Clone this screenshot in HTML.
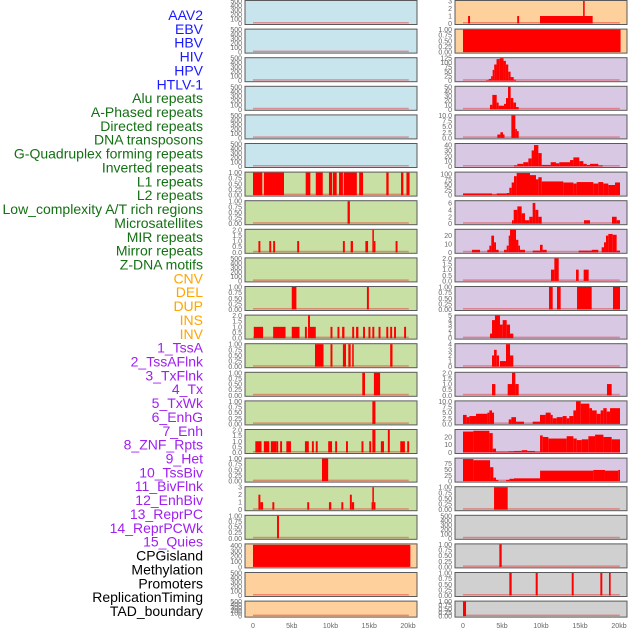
<!DOCTYPE html>
<html><head><meta charset="utf-8">
<style>
body{margin:0;background:#fff;width:630px;height:630px;overflow:hidden}
svg{display:block;font-family:"Liberation Sans",sans-serif}
</style></head>
<body>
<svg id="chart" width="630" height="630" viewBox="0 0 630 630"></svg>
<script>
const labels=["AAV2","EBV","HBV","HIV","HPV","HTLV-1","Alu repeats","A-Phased repeats","Directed repeats","DNA transposons","G-Quadruplex forming repeats","Inverted repeats","L1 repeats","L2 repeats","Low_complexity A/T rich regions","Microsatellites","MIR repeats","Mirror repeats","Z-DNA motifs","CNV","DEL","DUP","INS","INV","1_TssA","2_TssAFlnk","3_TxFlnk","4_Tx","5_TxWk","6_EnhG","7_Enh","8_ZNF_Rpts","9_Het","10_TssBiv","11_BivFlnk","12_EnhBiv","13_ReprPC","14_ReprPCWk","15_Quies","CPGisland","Methylation","Promoters","ReplicationTiming","TAD_boundary"];
const labelColors=[...Array(6).fill("#1a1aff"),...Array(13).fill("#147014"),...Array(5).fill("#ffa500"),...Array(15).fill("#a020f0"),...Array(5).fill("#000")];
const xTicks=[0,5,10,15,20];
const xTickLabels=["0","5kb","10kb","15kb","20kb"];
const T500=[0,100,200,300,400,500],TB=[0,0.25,0.5,0.75,1],T2=[0,0.5,1,1.5,2],T3=[0,1,2,3];
// left column panels: [max, ticks, background, segments [startKb,endKb,value]]
const leftMax=[500,500,500,500,500,500,1,1,2,500,1,2,1,1,1,2,1,3,1,420,500,500];
const leftTicks=[T500,T500,T500,T500,T500,T500,TB,TB,T2,T500,TB,T2,TB,TB,TB,T2,TB,T3,TB,[0,100,200,300,400],T500,T500];
const leftBg=["b","b","b","b","b","b","g","g","g","g","g","g","g","g","g","g","g","g","g","o","o","o"];
const leftSegs=[[],[],[],[],[],[],
[[0,1.2,1],[1.4,4.0,1],[6.8,7.4,1],[8.1,9.0,1],[9.8,10.2,1],[10.3,10.8,1],[11.1,11.6,1],[11.7,13.4,1],[13.7,14.2,1],[17.2,17.5,1],[19.1,19.4,1],[19.8,20.2,1]],
[[12.2,12.5,1]],
[[0.7,0.95,1],[2.1,2.35,1],[2.6,2.85,1],[5.7,5.95,1],[11.6,11.85,1],[12.6,12.9,1],[14.5,14.85,1],[15.4,15.6,2],[15.6,15.8,1],[18.4,18.65,1]],
[],
[[5.0,5.6,1],[14.7,14.95,1]],
[[0.1,1.3,1],[2.6,4.2,1],[5.0,6.0,1],[6.7,6.95,1],[7.1,7.35,2],[7.35,8.1,1],[10.0,10.25,1],[10.9,11.15,1],[11.5,11.8,1],[12.8,13.05,1],[13.3,13.6,1],[14.2,14.45,1],[14.9,15.15,1],[15.4,15.65,1],[16.2,16.45,1],[17.2,17.45,1],[17.7,17.95,1],[18.2,18.45,1],[19.5,19.75,1]],
[[8.0,9.1,1],[10.0,10.25,1],[11.6,12.0,1],[12.3,12.6,1],[12.8,13.0,1],[17.7,18.0,1]],
[[14.1,14.45,1],[15.6,16.4,1]],
[[15.4,15.8,1]],
[[0.3,1.1,1],[1.4,2.1,1],[2.3,3.0,1],[3.0,3.25,1],[3.5,3.75,1],[4.3,4.9,1],[6.7,7.2,1],[7.6,7.85,1],[8.1,8.35,1],[9.7,10.2,1],[10.6,10.85,1],[12.0,12.25,1],[14.0,14.25,1],[15.0,15.25,1],[15.4,15.8,2],[16.5,16.9,1],[17.4,17.65,2],[19.0,19.6,1],[19.9,20.15,1]],
[[8.9,9.7,1]],
[[0.7,0.95,2],[0.95,1.3,1],[2.5,2.75,1],[7.0,7.25,1],[9.8,10.1,1],[11.4,11.65,1],[12.5,12.75,2],[12.75,13.05,1],[15.4,15.6,3],[15.3,15.4,1],[15.6,15.8,1]],
[[3.1,3.35,1]],
[[0,20.3,412]],
[],[]];
// right column panels
const rightMax=[3,1,125,50,10,42,107,6.5,27,2,1,5,4,2,10,29,97,1,500,1,1,1];
const rightTicks=[T3,TB,[0,25,50,75,100,125],[0,10,20,30,40,50],[0,2.5,5,7.5,10],[0,10,20,30,40],[0,25,50,75,100],[0,2,4,6],[0,10,20],T2,TB,[0,1,2,3,4,5],[0,1,2,3,4],T2,[0,2.5,5,7.5,10],[0,10,20],[0,25,50,75],TB,T500,TB,TB,TB];
const rightBg=["o","o","p","p","p","p","p","p","p","p","p","p","p","p","p","p","p","y","y","y","y","y"];
const rightSegs=[
[[0.65,0.9,1],[6.95,7.2,1],[9.87,16.62,1],[15.4,15.6,3]],
[[0,20.2,1]],
[[2.95,3.3,3],[3.3,3.6,10],[3.6,3.8,25],[3.8,4.0,60],[4.0,4.3,90],[4.3,4.7,120],[4.7,5.2,125],[5.2,5.5,110],[5.5,5.8,90],[5.8,6.1,50],[6.1,6.5,20],[6.5,6.8,5]],
[[3.46,3.76,10],[3.76,4.32,32],[4.32,4.57,15],[4.57,5.26,8],[5.26,5.51,12],[5.51,5.77,25],[5.77,6.11,50],[6.11,6.45,25],[6.45,6.8,15],[6.8,7.14,5]],
[[4.40,4.79,1.5],[4.79,5.13,2.5],[5.13,5.26,1.5],[6.2,6.71,10],[6.71,6.88,4],[6.88,7.14,3]],
[[6.54,6.97,2],[6.97,7.73,5],[7.73,8.38,8],[8.38,8.80,15],[8.80,9.10,30],[9.10,9.66,40],[9.66,10.09,25],[10.09,11.24,3],[11.24,11.92,8],[11.92,12.35,6],[12.35,13.72,8],[13.72,14.15,12],[14.15,14.91,17],[14.91,15.43,10],[15.43,15.86,5],[15.86,16.28,3],[16.28,17.35,5],[17.35,17.91,2]],
[[0,3.72,8],[3.72,4.32,3],[4.32,5.6,8],[5.6,5.94,10],[5.94,6.24,35],[6.24,6.54,60],[6.54,6.88,90],[6.88,8.59,105],[8.59,9.36,95],[9.36,9.66,75],[9.66,10.09,85],[10.09,12.86,65],[12.86,14.15,60],[14.15,14.57,55],[14.57,16.71,62],[16.71,17.35,55],[17.35,17.99,62],[17.99,18.63,55],[18.63,19.49,48],[19.49,20.13,60]],
[[6.28,6.5,1],[6.5,6.97,4],[6.97,7.52,5],[7.52,7.95,3],[7.95,8.5,1],[8.5,8.93,2],[8.93,9.27,6],[9.27,9.66,4],[9.66,10.09,2],[15.51,16.28,1],[19.1,19.7,2],[19.7,20.13,1]],
[[1.15,2.18,3],[3.12,3.38,3],[3.38,3.63,8],[3.63,3.98,20],[3.98,4.23,12],[4.23,4.57,3],[5.26,5.6,3],[5.6,5.86,8],[5.86,6.03,20],[6.03,6.8,27],[6.8,7.1,15],[7.1,7.31,8],[7.31,7.95,3],[8.93,9.87,2],[9.87,10.21,9],[10.21,10.73,3],[14.83,16.5,2],[16.5,17.35,3],[17.78,18.08,6],[18.08,18.33,12],[18.33,18.63,20],[18.63,19.19,22],[19.19,19.7,21],[19.7,20.13,2]],
[[11.28,11.71,1],[11.71,12.27,2],[14.49,14.83,1],[15.47,16.11,1]],
[[11.03,11.5,1],[12.05,12.52,1],[14.62,16.5,1],[19.23,20.13,1]],
[[3.46,3.72,1],[3.72,4.1,4],[4.1,4.74,5],[4.74,5.09,3],[5.09,5.6,4],[5.6,6.03,3],[6.03,6.45,1]],
[[3.72,3.98,2],[3.98,4.32,3],[4.32,4.62,2],[4.74,5.51,1],[5.51,6.03,4],[6.03,6.45,2]],
[[3.72,4.15,1],[5.73,6.28,1],[6.28,6.71,2],[6.71,7.14,1],[18.46,19.06,1]],
[[0,0.47,4],[0.47,0.81,3],[0.81,1.67,3.5],[1.67,3.12,4.5],[3.12,3.38,5],[3.38,3.72,6],[3.72,3.98,5],[5.86,6.2,2],[6.2,6.8,3],[6.8,7.82,1],[8.93,9.87,1],[9.87,10.6,4],[10.6,11.24,5],[11.24,11.5,4],[11.5,12.01,2.5],[12.01,12.78,3],[12.78,13.29,3.5],[13.29,13.63,2.5],[13.63,14.15,3.5],[14.15,14.49,6],[14.49,15.09,10],[15.09,16.2,9],[16.2,16.54,7],[16.54,17.14,6],[17.14,17.65,4.5],[17.65,17.99,6],[17.99,18.42,7],[18.42,18.85,5.5],[18.85,20.13,7]],
[[0,1.33,27],[1.33,3.38,28],[3.38,3.81,25],[3.81,4.23,5],[4.23,5.82,1],[5.82,6.54,1.5],[6.54,7.53,2],[7.53,8.25,3],[8.25,9.23,2],[9.23,9.88,1],[9.88,10.22,22],[10.22,10.94,20],[10.94,13.29,18],[13.29,14.15,21],[14.15,14.58,18],[14.58,15.22,16],[15.22,16.07,17],[16.07,16.93,21],[16.93,18.0,23],[18.0,19.06,20],[19.06,20.13,17]],
[[0,1.33,95],[1.33,3.47,90],[3.47,3.89,60],[3.89,4.23,15],[4.23,4.53,5],[5.52,5.95,5],[5.95,6.54,10],[6.54,9.88,12],[9.88,16.71,45],[16.71,18.2,48],[18.2,19.9,45],[19.9,20.13,48]],
[[3.98,5.73,1]],
[],
[[4.66,4.96,1]],
[[5.94,6.24,1],[9.32,9.58,1],[13.94,14.19,1],[17.61,17.86,1],[18.72,18.93,1]],
[[0,0.39,1]]];
const bgColor={b:"#c8e4ec",g:"#c8e0a4",o:"#fdd09c",p:"#d8c8e4",y:"#d0d0d0"};
const NS="http://www.w3.org/2000/svg";
const svg=document.getElementById("chart");
function mk(tag,attrs,parent){const e=document.createElementNS(NS,tag);for(const k in attrs)e.setAttribute(k,attrs[k]);(parent||svg).appendChild(e);return e;}
// labels
labels.forEach((t,i)=>{
  const e=mk("text",{x:203,y:15+i*13.86+5,"text-anchor":"end","font-size":"14",fill:labelColors[i]});
  
  
  e.textContent=t;
});
function rowTop(i){return i*28.6;}
function rowH(i){return i===21?17:25;}
function fmt(v,ticks){const m=Math.max(...ticks);if(m<=1)return v.toFixed(2);if(ticks.some(t=>t%1!==0))return v.toFixed(1);return String(v);}
function drawColumn(x0,x1,xz,kbPx,maxes,ticks,bgs,segs,col){
  const xScale=kb=>xz+kb*kbPx;
  for(let i=0;i<22;i++){
    const T=rowTop(i),H=rowH(i);
    const g=mk("g",{});
    
    
    const r=mk("rect",{x:x0,y:T+0.5,width:x1-x0,height:H-1,fill:bgColor[bgs[i]],stroke:"#5a5a5a","stroke-width":1},g);
    
    
    const bot=T+H-1.5,ph=H-2.5;
    const yScale=v=>bot-v/maxes[i]*ph;
    ticks[i].forEach(tv=>{
      const tt=mk("text",{x:x0-3,y:yScale(tv)+2.5,"text-anchor":"end","font-size":"7",fill:"#666"},g);
      
      
      tt.textContent=fmt(tv,ticks[i]);
    });
    const bl=mk("rect",{x:xScale(0),y:bot-1.5,width:xScale(20.1)-xScale(0),height:1.5,fill:"rgba(230,40,40,0.45)"},g);
    
    
    segs[i].forEach(s=>{
      const xa=xScale(s[0]),xb=xScale(s[1]);
      const b=mk("rect",{x:xa,y:yScale(s[2]),width:Math.max(1.5,xb-xa),height:bot-yScale(s[2]),fill:"#ff0000"},g);
      
      
    });
  }
  xTicks.forEach((kb,j)=>{
    const t=mk("text",{x:xScale(kb),y:628,"text-anchor":"middle","font-size":"7",fill:"#666"});
    
    
    t.textContent=xTickLabels[j];
  });
}
drawColumn(245,417,253,7.75,leftMax,leftTicks,leftBg,leftSegs,'left');
drawColumn(455,627,463,7.8,rightMax,rightTicks,rightBg,rightSegs,'right');
</script>
</body></html>
